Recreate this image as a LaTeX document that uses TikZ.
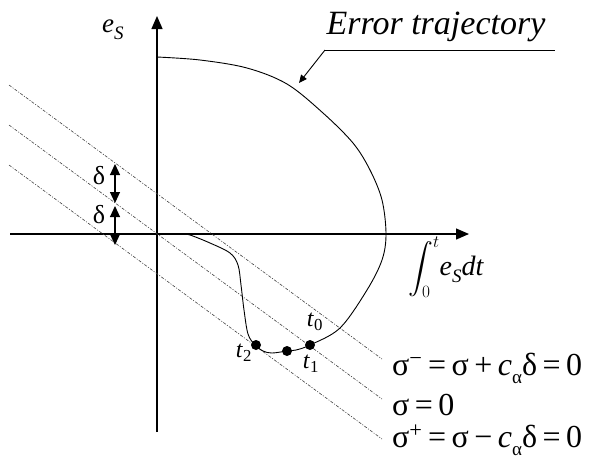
\documentclass[tikz,border=0pt]{standalone}
\usepackage{amsmath}
\usepackage{fontspec}
\setmainfont{Liberation Serif}
\usetikzlibrary{arrows.meta}
\newcommand\myeqfont{\fontsize{32}{34}\selectfont\spaceskip=5.5pt plus 1pt\relax}
\newcommand\mysub[1]{\raisebox{-0.28em}{\fontsize{19}{20}\selectfont #1}}
\begin{document}
\begin{tikzpicture}[x=1pt,y=-1pt,
  axis/.style={line width=1.3pt,-{Triangle[length=13pt,width=11pt]}},
  traj/.style={line width=0.9pt},
  sline/.style={line width=0.6pt,black!75,dash pattern=on 3pt off 1.5pt on 1pt off 1.5pt},
  darrow/.style={line width=1.1pt,{Triangle[length=11pt,width=10pt]}-{Triangle[length=11pt,width=10pt]}},
  dot/.style={circle,fill,inner sep=0pt,minimum size=10pt},
  lbl/.style={inner sep=0pt},
  tl/.style={inner sep=0pt,font=\fontsize{24}{28}\selectfont},
  eq/.style={inner sep=0pt,anchor=base west,font=\myeqfont}]
\useasboundingbox (0,0) rectangle (601,459);
% axes
\coordinate (xs) at (10,234); \coordinate (xe) at (469,234);
\coordinate (ys) at (157,432); \coordinate (ye) at (157,16);
\draw[axis] (xs) -- (xe);
\draw[axis] (ys) -- (ye);
\node[lbl,anchor=base west,font=\fontsize{27}{30}\selectfont] (es) at (102,32) {\textit{e}\mysub{\textit{S}}};
\node[lbl,anchor=base west] (int) at (408,275) {{\fontsize{25}{28}\selectfont$\displaystyle\int_0^t$}{\fontsize{28}{30}\selectfont\textit{e}\mysub{\textit{S}}\textit{dt}}};
% sliding lines
\coordinate (a1) at (9,85);  \coordinate (a2) at (382,359);
\coordinate (b1) at (9,125); \coordinate (b2) at (382,399);
\coordinate (c1) at (9,165); \coordinate (c2) at (382,439);
\draw[sline] (a1) -- (a2);
\draw[sline] (b1) -- (b2);
\draw[sline] (c1) -- (c2);
\node[eq] (sm) at (392,375) {σ\textsuperscript{−} = σ + \textit{c}\mysub{α}δ = 0};
\node[eq] (s0) at (392,415) {σ = 0};
\node[eq] (sp) at (392,447) {σ\textsuperscript{+} = σ − \textit{c}\mysub{α}δ = 0};
% delta arrows
\coordinate (d1) at (115,164); \coordinate (d2) at (115,203);
\coordinate (d3) at (115,206); \coordinate (d4) at (115,245);
\draw[darrow] (d1) -- (d2);
\draw[darrow] (d3) -- (d4);
\node[lbl,font=\fontsize{26}{28}\selectfont] (del1) at (99,176) {δ};
\node[lbl,font=\fontsize{26}{28}\selectfont] (del2) at (99,215) {δ};
% trajectory
\draw[traj] plot[smooth,tension=0.55] coordinates {(157,57) (200,60) (247,68) (287,84) (323,113) (353,143) (370,170) (382,200) (386,234) (382,260) (367,290) (340,328) (310,345) (296,350) (287,351) (272,353) (263,351) (255,345) (248,334) (244,310) (241,285) (238,265) (230,253) (210,243) (190,235) (182,234)};
\node[dot] (t1) at (310,345) {};
\node[dot] (tm) at (287,351) {};
\node[dot] (t2) at (256,345) {};
\node[tl] (l0) at (315,322) {\textit{t}\textsubscript{0}};
\node[tl] (l1) at (311,364) {\textit{t}\textsubscript{1}};
\node[tl] (l2) at (244,353) {\textit{t}\textsubscript{2}};
% error trajectory label
\node[lbl,font=\fontsize{34}{38}\selectfont\itshape] (err) at (436,27) {Error trajectory};
\coordinate (u1) at (325,50); \coordinate (u2) at (555,50);
\coordinate (tip) at (299,83);
\draw[line width=0.9pt] (u1) -- (u2);
\draw[line width=0.9pt,-{Triangle[length=8pt,width=7pt]}] (u1) -- (tip);
\end{tikzpicture}
\end{document}
